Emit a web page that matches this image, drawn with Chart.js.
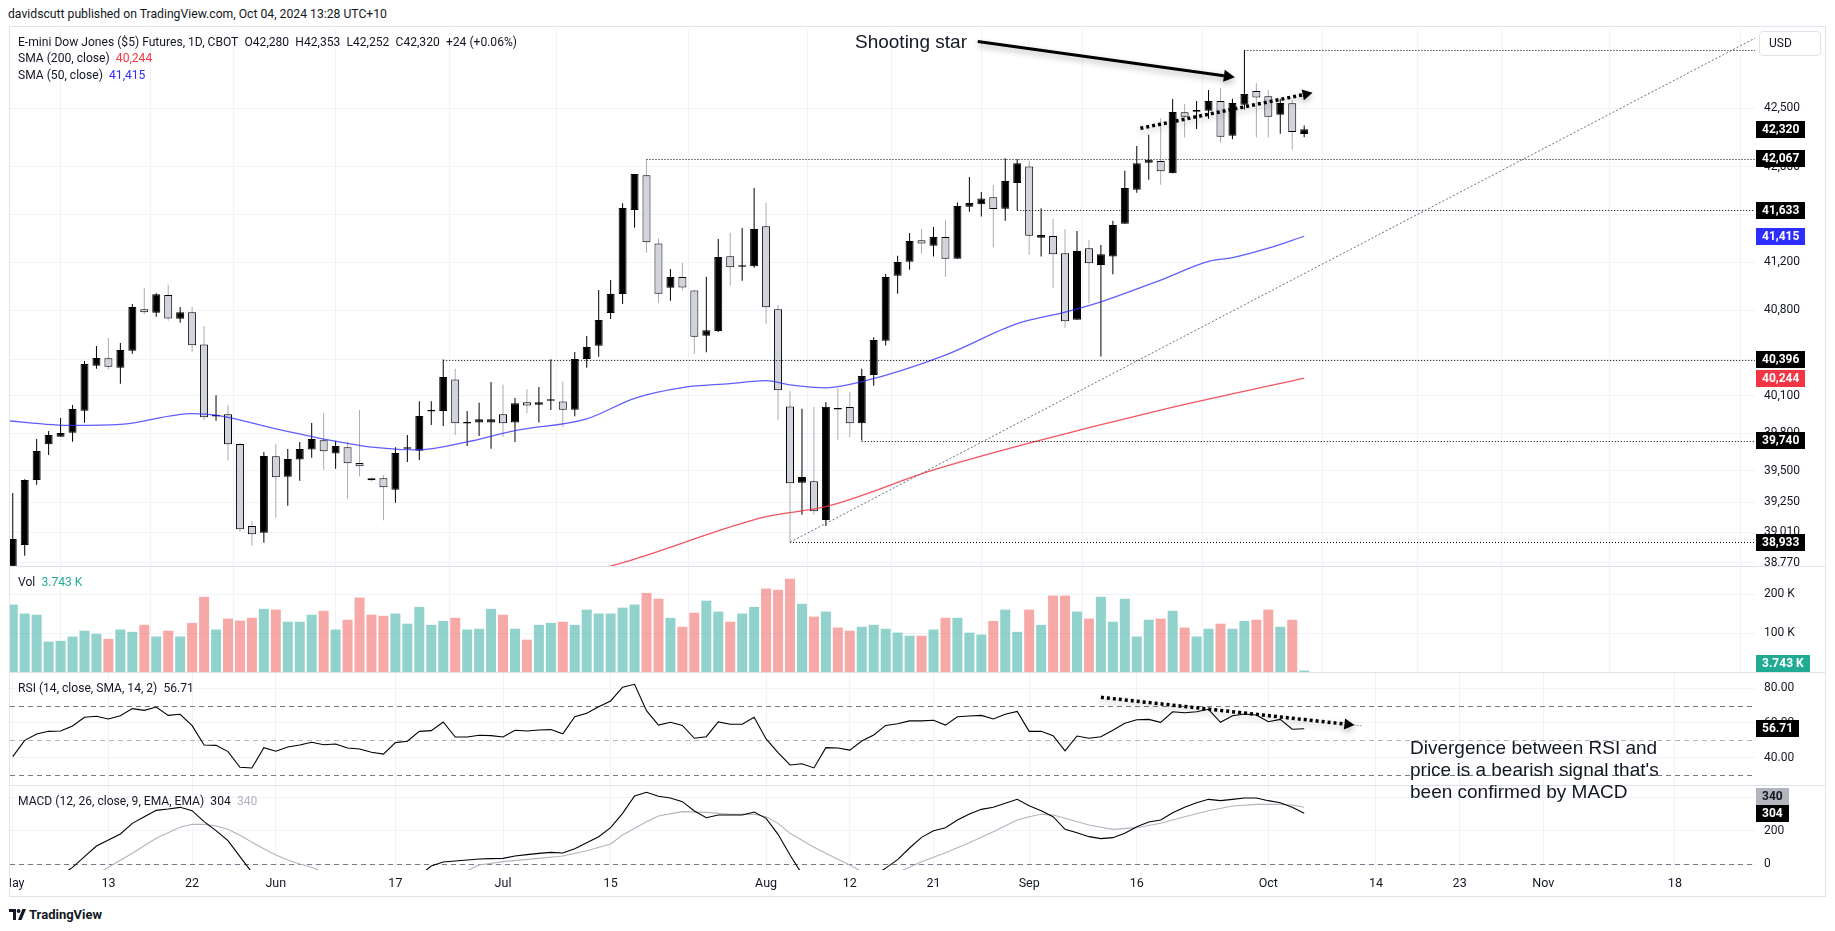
<!DOCTYPE html>
<html lang="en">
<head>
<meta charset="utf-8">
<title>E-mini Dow Jones ($5) Futures, 1D</title>
<script src="https://cdn.jsdelivr.net/npm/chart.js@4.4.1/dist/chart.umd.min.js"></script>
<style>
  html, body { margin: 0; padding: 0; background: #fff; }
  body { position: relative; width: 1835px; height: 931px; overflow: hidden;
         font-family: Roboto, 'Liberation Sans', sans-serif; color: #131722; }
  .pane { position: absolute; left: 10px; width: 1815px; }
  .txt { position: absolute; white-space: nowrap; }
  .legend { left: 18px; font-size: 12.1px; line-height: 16px; }
  .sep { position: absolute; left: 9px; width: 1816px; height: 1px; background: #e0e3eb; }
  .note { font-family: 'Liberation Sans', Arial, sans-serif; font-size: 19px; line-height: 22px; }
</style>
</head>
<body>
<div class="txt" style="left:8px;top:6px;font-size:12.2px;line-height:16px;">davidscutt published on TradingView.com, Oct 04, 2024 13:28 UTC+10</div>
<div style="position:absolute;left:9px;top:26px;width:1815px;height:869px;border:1px solid #e0e3eb;"></div>

<div class="pane" style="top:26px;height:540px;"><canvas id="priceChart"></canvas></div>
<div class="pane" style="top:566px;height:106px;"><canvas id="volumeChart"></canvas></div>
<div class="pane" style="top:672px;height:113px;"><canvas id="rsiChart"></canvas></div>
<div class="pane" style="top:785px;height:111px;"><canvas id="macdChart"></canvas></div>

<div class="sep" style="top:566px"></div>
<div class="sep" style="top:672px"></div>
<div class="sep" style="top:785px"></div>

<div class="txt legend" id="legendMain" style="top:34px;"></div>
<div class="txt legend" id="legendSma200" style="top:50px;"></div>
<div class="txt legend" id="legendSma50" style="top:67px;"></div>
<div class="txt legend" id="legendVol" style="top:574px;"></div>
<div class="txt legend" id="legendRsi" style="top:680px;"></div>
<div class="txt legend" id="legendMacd" style="top:793px;"></div>

<div class="txt" style="left:1759px;top:31px;width:60px;height:23px;border:1px solid #e0e3eb;border-radius:4px;font-size:12px;line-height:23px;text-indent:9px;">USD</div>

<div class="txt note" style="left:855px;top:31px;">Shooting star</div>
<div class="txt note" style="left:1410px;top:737px;">Divergence between RSI and<br>price is a bearish signal that's<br>been confirmed by MACD</div>

<div class="txt" style="left:9px;top:906px;font-size:13px;line-height:18px;font-weight:bold;">
  <svg width="17" height="11" style="vertical-align:-1px;margin-right:3px"><path d="M0 0h7v11H4V3H0z" fill="#131722"/><circle cx="9.6" cy="2" r="1.9" fill="#131722"/><path d="M13.5 0h3.5l-4.5 11H9z" fill="#131722"/></svg>TradingView
</div>

<script>
// ---- data (bar 0 = May 1, bar 108 = Oct 4) ----
const opens = [38740,38910,39425,39711,39772,39804,39980,40346,40406,40330,
  40468,40808,40780,40926,40730,40783,40520,39935,39952,39713,
  39060,39008,39615,39451,39588,39668,39743,39636,39687,39561,
  39439,39439,39347,39675,39659,39975,39978,40234,39877,39885,
  39885,39952,39885,40049,40028,40062,40056,39989,40401,40509,
  40777,40934,41635,41928,41355,40986,41075,40964,40591,40630,
  41247,41160,41164,41498,40808,40014,39404,39415,39108,39997,
  40011,39880,40270,40550,41086,41203,41381,41335,41408,41228,
  41663,41683,41742,41646,41864,42003,41402,41417,41272,40722,
  41314,41175,41245,41520,41806,42035,42049,41946,42465,42470,
  42479,42562,42264,42530,42648,42602,42444,42542,42280];
const highs = [39322,39431,39753,39817,39922,40026,40384,40507,40572,40531,
  40852,40984,40940,41011,40827,40827,40671,40106,40026,39720,
  39100,39649,39713,39673,39729,39882,39962,39737,39729,39986,
  39445,39465,39687,39785,40058,40058,40396,40322,39978,40046,
  40213,40194,40083,40156,40172,40398,40215,40458,40589,40967,
  41050,41693,41939,42067,41397,41141,41192,40970,41078,41392,
  41445,41484,41820,41696,40843,40140,39997,40011,40050,40166,
  40132,40322,40578,41100,41252,41442,41476,41493,41551,41699,
  41913,41786,41845,42072,42064,42052,41649,41560,41476,41459,
  41383,41341,41545,41967,42177,42273,42414,42579,42536,42562,
  42657,42674,42582,43000,42716,42657,42582,42570,42353];
const lows = [38700,38826,39387,39625,39772,39731,39884,40322,40317,40199,
  40444,40769,40747,40714,40698,40460,39906,39900,39580,39016,
  38905,38929,39126,39221,39419,39603,39507,39515,39276,39452,
  39415,39106,39245,39569,39585,39865,39857,39785,39697,39777,
  39674,39771,39729,39960,39885,39986,39850,39937,40330,40419,
  40728,40852,41487,41278,40863,40879,40964,40444,40455,40621,
  41003,41044,41153,40687,39908,38933,39150,39150,39060,39745,
  39767,39740,40183,40510,40937,41136,41269,41245,41078,41228,
  41621,41580,41320,41545,41633,41261,41245,40986,40657,40722,
  40858,40421,41098,41520,41780,41891,41848,41946,42250,42322,
  42410,42205,42234,42490,42250,42250,42282,42146,42252];
const closes = [38957,39425,39657,39785,39801,39994,40360,40408,40338,40474,
  40827,40783,40932,40733,40785,40512,39928,39945,39711,39035,
  38995,39617,39447,39593,39673,39753,39655,39697,39559,39534,
  39423,39367,39641,39682,39938,39982,40253,39880,39885,39912,
  39912,39880,40041,40022,40049,40070,39989,40401,40499,40720,
  40934,41651,41939,41364,40937,41075,40989,40583,40635,41242,
  41156,41168,41475,40825,40146,39399,39449,39177,40013,39990,
  39880,40262,40556,41075,41200,41375,41355,41408,41228,41668,
  41694,41733,41643,41879,42031,41419,41425,41264,40709,41292,
  41189,41264,41509,41820,42031,42060,41962,42467,42427,42485,
  42562,42256,42544,42622,42593,42427,42544,42296,42320];

// volume in thousands of contracts
const volumeK = [173,150,147,78,80,91,106,98,85,109,
  103,121,91,106,91,126,193,109,137,132,
  139,162,160,129,129,147,157,109,134,191,
  147,144,150,124,167,121,131,139,109,111,
  162,147,111,83,121,126,129,121,160,150,
  150,165,173,203,188,139,116,152,183,155,
  129,150,167,214,211,239,175,142,155,114,
  106,116,121,111,101,93,93,109,139,139,
  101,96,131,160,103,160,121,196,196,155,
  137,193,129,188,91,134,137,157,114,91,
  111,124,111,131,134,160,116,134,3.743];

const rsiValues = [40.6,50.0,53.7,55.2,55.4,58.3,63.3,63.9,62.3,64.2,
  68.3,67.3,69.2,64.4,65.0,58.5,47.3,47.1,43.5,34.5,
  34.1,45.8,43.7,46.2,47.3,48.9,47.5,47.9,45.6,45.0,
  43.1,42.1,48.7,49.5,55.2,55.6,60.6,51.9,51.9,52.9,
  52.7,51.9,55.8,55.4,56.0,56.2,53.8,63.6,65.6,69.4,
  72.7,80.6,82.3,67.1,58.8,60.4,58.6,51.2,52.1,60.6,
  59.3,59.3,63.3,50.8,42.9,35.8,36.5,34.1,45.8,45.6,
  44.4,49.6,53.1,58.6,59.6,61.2,61.2,61.6,58.8,63.6,
  64.0,64.4,62.3,65.0,66.7,55.2,55.2,52.7,44.0,52.5,
  51.2,52.1,55.8,59.8,61.9,62.1,60.4,66.5,65.9,66.5,
  67.9,60.4,64.2,65.2,64.6,60.7,62.1,56.4,56.71];

// MACD line; null where the line runs below the pane
const macdValues = [null,null,null,null,-70,-20,44,108,144,180,
  244,284,322,330,340,320,254,200,140,44,
  -50,null,null,null,null,null,null,null,null,null,
  null,null,null,null,-70,-12,12,18,24,30,
  32,34,48,56,64,70,66,92,128,164,
  218,304,408,430,406,396,374,318,278,294,
  294,294,312,274,178,54,-60,null,null,null,
  null,null,-70,-25,26,96,160,200,218,264,
  300,328,340,364,388,350,320,284,208,188,
  164,152,158,184,224,252,264,308,340,368,
  388,380,388,396,396,380,368,340,304];
// signal line, [bar, value]
const signalPoints = [[7,-60],[8,-20],[10,64],[12,154],[14,220],[15,238],[16,238],[17,228],[18,208],[19,172],
  [20,130],[21,92],[22,54],[23,24],[24,0],[25,-20],[26,-50],[38,-40],[39,-6],[41,14],[44,34],[46,48],
  [48,80],[50,120],[51,174],[53,254],[54,288],[56,314],[58,310],[60,298],[62,298],[63,284],[64,244],
  [65,184],[67,100],[68,64],[69,28],[70,-6],[71,-45],[74,-50],[75,-20],[76,14],[78,68],[80,128],
  [82,194],[84,264],[85,284],[86,298],[87,294],[88,274],[90,234],[92,208],[94,218],[96,244],
  [98,284],[100,320],[102,348],[104,358],[106,358],[107,354],[108,340]];

// moving averages, [bar, value]
const sma50Points = [[-1,39904],[5,39862],[9,39870],[15,39958],[17,39945],[22,39835],[27,39735],[30,39688],
  [34,39666],[38,39730],[42,39820],[48,39915],[52,40081],[56,40168],[60,40200],[63,40224],[65,40190],
  [68,40166],[71,40216],[78,40433],[84,40690],[88,40785],[91,40870],[96,41050],[100,41205],[102,41236],
  [105,41315],[108,41415]];
const sma200Points = [[48,38690],[50,38745],[52,38800],[63,39134],[68,39213],[77,39505],[85,39720],
  [96,39986],[108,40244]];

// time axis
const dateTickIndex = [0, 8, 15, 22, 32, 41, 50, 63, 70, 77, 85, 94, 105, 114, 121, 128, 139];
const dateTickText = ['May','13','22','Jun','17','Jul','15','Aug','12','21','Sep','16','Oct','14','23','Nov','18'];

// value axes
const priceTicks = [38770, 39010, 39250, 39500, 39800, 40100, 40400, 40800, 41200, 41600, 42000, 42500];
const volumeTicks = [100, 200];
const rsiTicks = [40, 60, 80];
const rsiBands = [70, 50, 30];
const macdTicks = [0, 200, 400];

// drawn levels and trend lines
const levelPrices = [43000, 42067, 41633, 40396, 39740, 38933];
const levelStartBar = [103, 53, 84, 36, 71, 65];
const supportLine = [[65, 38933], [96, 40486]];
const starArrow = [[80.7, 43077], [102.2, 42766]];
const priceArrow = [[94.3, 42328], [108.7, 42633]];
const rsiArrow = [[91.0, 74.8], [112.2, 58.8]];

// ---- view ----
const X_MIN = -0.23, X_MAX = 145.7;
const PRICE_MIN = 38746, PRICE_MAX = 43212;
const GRID = '#f0f3fa';
const TEXT = '#131722';
const BLUE = '#2d2dff';
const RED = '#f23645';
const UP_VOL = 'rgba(38,166,154,0.5)';
const DOWN_VOL = 'rgba(239,83,80,0.5)';

const last = closes.length - 1;
const isUp = closes.map((c, i) => c >= opens[i]);
const fmt = v => v.toLocaleString('en-US');

Chart.defaults.font.family = "Roboto, 'Liberation Sans', sans-serif";
Chart.defaults.font.size = 12;
Chart.defaults.color = TEXT;
Chart.defaults.animation = false;
Chart.defaults.events = [];
Chart.defaults.plugins.legend.display = false;
Chart.defaults.plugins.tooltip.enabled = false;

function timeAxis(showLabels) {
  return {
    type: 'linear', min: X_MIN, max: X_MAX, offset: false,
    grid: { color: GRID, drawTicks: false },
    border: { display: false },
    ticks: {
      display: showLabels, autoSkip: false, maxRotation: 0, padding: 6,
      font: { size: 12.5 },
      callback: v => { const k = dateTickIndex.indexOf(v); return k < 0 ? '' : dateTickText[k]; }
    },
    afterBuildTicks: s => { s.ticks = dateTickIndex.map(v => ({ value: v })); },
    afterFit: s => { s.height = showLabels ? 26 : 0; s.paddingLeft = 0; s.paddingRight = 0; }
  };
}

function valueAxis(type, min, max, tickValues, format) {
  return {
    type, min, max, position: 'right',
    grid: { color: GRID, drawTicks: false },
    border: { display: false },
    ticks: { padding: 9, autoSkip: false, font: { size: 12 }, callback: v => format(v) },
    afterBuildTicks: s => { s.ticks = tickValues.map(v => ({ value: v })); },
    afterFit: s => { s.width = 70; s.paddingTop = 0; s.paddingBottom = 0; }
  };
}

// price-scale labels in coloured boxes
function valueBoxes(boxes) {
  return {
    id: 'valueBoxes',
    afterDraw(chart) {
      const { ctx, chartArea: a, scales: { y } } = chart;
      const h = 17;
      const list = boxes.map(b => Object.assign({ py: y.getPixelForValue(b.value) }, b));
      list.forEach(b => { b.py = Math.min(Math.max(b.py, a.top + h / 2), a.bottom - h / 2); });
      list.sort((p, q) => q.py - p.py);
      for (let i = 1; i < list.length; i++) {
        if (list[i - 1].py - list[i].py < h) list[i].py = list[i - 1].py - h;
      }
      ctx.save();
      ctx.font = "bold 12px Roboto, 'Liberation Sans', sans-serif";
      ctx.textBaseline = 'middle';
      list.forEach(b => {
        const w = Math.round(ctx.measureText(b.text).width) + 12;
        const top = Math.round(b.py - h / 2);
        ctx.fillStyle = b.bg;
        ctx.fillRect(a.right + 1, top, w, h);
        ctx.fillStyle = b.fg || '#fff';
        ctx.fillText(b.text, a.right + 7, top + h / 2 + 0.5);
      });
      ctx.restore();
    }
  };
}

function drawArrow(ctx, x1, y1, x2, y2, width, dash, head) {
  const ang = Math.atan2(y2 - y1, x2 - x1);
  const bx = x2 - Math.cos(ang) * head, by = y2 - Math.sin(ang) * head;
  const hw = head * 0.55;
  ctx.save();
  ctx.shadowColor = 'rgba(0,0,0,0.3)';
  ctx.shadowBlur = 6;
  ctx.shadowOffsetY = 3;
  ctx.strokeStyle = '#000';
  ctx.fillStyle = '#000';
  ctx.lineWidth = width;
  ctx.setLineDash(dash);
  ctx.beginPath(); ctx.moveTo(x1, y1); ctx.lineTo(bx, by); ctx.stroke();
  ctx.setLineDash([]);
  ctx.beginPath();
  ctx.moveTo(x2, y2);
  ctx.lineTo(bx + Math.sin(ang) * hw, by - Math.cos(ang) * hw);
  ctx.lineTo(bx - Math.sin(ang) * hw, by + Math.cos(ang) * hw);
  ctx.closePath();
  ctx.fill();
  ctx.restore();
}

const priceDrawings = {
  id: 'priceDrawings',
  afterDatasetsDraw(chart) {
    const { ctx, chartArea: a, scales: { x, y } } = chart;
    ctx.save();
    ctx.beginPath(); ctx.rect(a.left, a.top, a.width, a.height); ctx.clip();

    // horizontal levels
    ctx.strokeStyle = '#000';
    ctx.lineWidth = 1;
    ctx.setLineDash([1, 2]);
    levelPrices.forEach((p, i) => {
      const py = Math.round(y.getPixelForValue(p)) + 0.5;
      ctx.beginPath();
      ctx.moveTo(x.getPixelForValue(levelStartBar[i]), py);
      ctx.lineTo(a.right, py);
      ctx.stroke();
    });

    // rising support line, extended to the right edge
    const sx1 = x.getPixelForValue(supportLine[0][0]), sy1 = y.getPixelForValue(supportLine[0][1]);
    const sx2 = x.getPixelForValue(supportLine[1][0]), sy2 = y.getPixelForValue(supportLine[1][1]);
    const slope = (sy2 - sy1) / (sx2 - sx1);
    ctx.strokeStyle = '#6a6d78';
    ctx.setLineDash([2, 2]);
    ctx.beginPath();
    ctx.moveTo(sx1, sy1);
    ctx.lineTo(a.right, sy1 + slope * (a.right - sx1));
    ctx.stroke();
    ctx.restore();

    drawArrow(ctx, x.getPixelForValue(starArrow[0][0]), y.getPixelForValue(starArrow[0][1]),
      x.getPixelForValue(starArrow[1][0]), y.getPixelForValue(starArrow[1][1]), 3, [], 11);
    drawArrow(ctx, x.getPixelForValue(priceArrow[0][0]), y.getPixelForValue(priceArrow[0][1]),
      x.getPixelForValue(priceArrow[1][0]), y.getPixelForValue(priceArrow[1][1]), 3.5, [3, 3], 10);
  }
};

const rsiDrawings = {
  id: 'rsiDrawings',
  beforeDatasetsDraw(chart) {
    const { ctx, chartArea: a, scales: { y } } = chart;
    ctx.save();
    ctx.lineWidth = 1;
    ctx.setLineDash([5, 4]);
    rsiBands.forEach(v => {
      const py = Math.round(y.getPixelForValue(v)) + 0.5;
      ctx.strokeStyle = v === 50 ? '#b2b5be' : '#787b86';
      ctx.beginPath(); ctx.moveTo(a.left, py); ctx.lineTo(a.right, py); ctx.stroke();
    });
    ctx.restore();
  },
  afterDatasetsDraw(chart) {
    const { ctx, scales: { x, y } } = chart;
    const x1 = x.getPixelForValue(rsiArrow[0][0]), y1 = y.getPixelForValue(rsiArrow[0][1]);
    const x2 = x.getPixelForValue(rsiArrow[1][0]), y2 = y.getPixelForValue(rsiArrow[1][1]);
    drawArrow(ctx, x1, y1, x2, y2, 3.5, [3, 3], 10);
    // thin dotted tail past the arrow head
    const ang = Math.atan2(y2 - y1, x2 - x1);
    ctx.save();
    ctx.strokeStyle = '#555';
    ctx.lineWidth = 1;
    ctx.setLineDash([1, 2]);
    ctx.beginPath(); ctx.moveTo(x2, y2); ctx.lineTo(x2 + Math.cos(ang) * 9, y2 + Math.sin(ang) * 9); ctx.stroke();
    ctx.restore();
  }
};

const macdZero = {
  id: 'macdZero',
  beforeDatasetsDraw(chart) {
    const { ctx, chartArea: a, scales: { y } } = chart;
    const py = Math.round(y.getPixelForValue(0)) + 0.5;
    ctx.save();
    ctx.strokeStyle = '#787b86';
    ctx.lineWidth = 1;
    ctx.setLineDash([5, 4]);
    ctx.beginPath(); ctx.moveTo(a.left, py); ctx.lineTo(a.right, py); ctx.stroke();
    ctx.restore();
  }
};

const baseOptions = { responsive: true, maintainAspectRatio: false, layout: { padding: 0 } };
const sma50Last = sma50Points[sma50Points.length - 1][1];
const sma200Last = sma200Points[sma200Points.length - 1][1];

// ---- price pane ----
new Chart(document.getElementById('priceChart'), {
  type: 'bar',
  data: {
    datasets: [
      {
        type: 'line', label: 'SMA 50', order: 1,
        data: sma50Points.map(p => ({ x: p[0], y: p[1] })),
        borderColor: 'rgba(41,41,255,0.75)', borderWidth: 1.3, pointRadius: 0,
        cubicInterpolationMode: 'monotone'
      },
      {
        type: 'line', label: 'SMA 200', order: 1,
        data: sma200Points.map(p => ({ x: p[0], y: p[1] })),
        borderColor: 'rgba(242,54,69,0.85)', borderWidth: 1.3, pointRadius: 0,
        cubicInterpolationMode: 'monotone'
      },
      {
        label: 'Body', order: 2, grouped: false,
        data: opens.map((o, i) => ({ x: i, y: [o, closes[i]] })),
        backgroundColor: isUp.map(u => u ? '#000000' : '#d1d4dc'),
        borderColor: '#000000', borderWidth: 1, borderSkipped: false,
        barThickness: 8, minBarLength: 1.5, inflateAmount: 0
      },
      {
        label: 'Wick', order: 3, grouped: false,
        data: lows.map((l, i) => ({ x: i, y: [l, highs[i]] })),
        backgroundColor: isUp.map(u => u ? '#000000' : '#a9acb6'),
        barThickness: 1, inflateAmount: 0
      }
    ]
  },
  options: Object.assign({}, baseOptions, {
    scales: {
      x: timeAxis(false),
      y: valueAxis('logarithmic', PRICE_MIN, PRICE_MAX, priceTicks, fmt)
    }
  }),
  plugins: [priceDrawings, valueBoxes([
    { value: closes[last], text: fmt(closes[last]), bg: '#000' },
    { value: levelPrices[1], text: fmt(levelPrices[1]), bg: '#000' },
    { value: levelPrices[2], text: fmt(levelPrices[2]), bg: '#000' },
    { value: sma50Last, text: fmt(sma50Last), bg: BLUE },
    { value: levelPrices[3], text: fmt(levelPrices[3]), bg: '#000' },
    { value: sma200Last, text: fmt(sma200Last), bg: RED },
    { value: levelPrices[4], text: fmt(levelPrices[4]), bg: '#000' },
    { value: levelPrices[5], text: fmt(levelPrices[5]), bg: '#000' }
  ])]
});

// ---- volume pane ----
new Chart(document.getElementById('volumeChart'), {
  type: 'bar',
  data: {
    datasets: [{
      label: 'Vol', grouped: false,
      data: volumeK.map((v, i) => ({ x: i, y: v })),
      backgroundColor: isUp.map(u => u ? UP_VOL : DOWN_VOL),
      barThickness: 10, inflateAmount: 0
    }]
  },
  options: Object.assign({}, baseOptions, {
    scales: {
      x: timeAxis(false),
      y: valueAxis('linear', 0, 272, volumeTicks, v => v + ' K')
    }
  }),
  plugins: [valueBoxes([{ value: volumeK[last], text: volumeK[last] + ' K', bg: '#22ab94' }])]
});

// ---- RSI pane ----
new Chart(document.getElementById('rsiChart'), {
  type: 'line',
  data: {
    datasets: [{
      label: 'RSI',
      data: rsiValues.map((v, i) => ({ x: i, y: v })),
      borderColor: '#000000', borderWidth: 1.1, pointRadius: 0, tension: 0
    }]
  },
  options: Object.assign({}, baseOptions, {
    scales: {
      x: timeAxis(false),
      y: valueAxis('linear', 24.27, 89.39, rsiTicks, v => v.toFixed(2))
    }
  }),
  plugins: [rsiDrawings, valueBoxes([{ value: rsiValues[last], text: rsiValues[last].toFixed(2), bg: '#000' }])]
});

// ---- MACD pane + time axis ----
new Chart(document.getElementById('macdChart'), {
  type: 'line',
  data: {
    datasets: [
      {
        label: 'MACD',
        data: macdValues.map((v, i) => ({ x: i, y: v })),
        borderColor: '#000000', borderWidth: 1.1, pointRadius: 0, spanGaps: false
      },
      {
        label: 'Signal',
        data: signalPoints.map(p => ({ x: p[0], y: p[1] })),
        borderColor: '#b2b5be', borderWidth: 1.1, pointRadius: 0
      }
    ]
  },
  options: Object.assign({}, baseOptions, {
    scales: {
      x: timeAxis(true),
      y: valueAxis('linear', -36, 474, macdTicks, v => String(v))
    }
  }),
  plugins: [macdZero, valueBoxes([
    { value: macdValues[last], text: String(macdValues[last]), bg: '#000' },
    { value: signalPoints[signalPoints.length - 1][1], text: String(signalPoints[signalPoints.length - 1][1]), bg: '#b2b5be', fg: TEXT }
  ])]
});

// ---- legends ----
const change = closes[last] - closes[last - 1];
const changePct = (change / closes[last - 1] * 100).toFixed(2);
document.getElementById('legendMain').textContent =
  'E-mini Dow Jones ($5) Futures, 1D, CBOT\u2002O' + fmt(opens[last]) + '\u2002H' + fmt(highs[last]) +
  '\u2002L' + fmt(lows[last]) + '\u2002C' + fmt(closes[last]) + '\u2002' + (change >= 0 ? '+' : '') + change +
  ' (' + (change >= 0 ? '+' : '') + changePct + '%)';
document.getElementById('legendSma200').innerHTML =
  'SMA (200, close)&ensp;<span style="color:' + RED + '">' + fmt(sma200Last) + '</span>';
document.getElementById('legendSma50').innerHTML =
  'SMA (50, close)&ensp;<span style="color:' + BLUE + '">' + fmt(sma50Last) + '</span>';
document.getElementById('legendVol').innerHTML =
  'Vol&ensp;<span style="color:#22ab94">' + volumeK[last] + ' K</span>';
document.getElementById('legendRsi').innerHTML =
  'RSI (14, close, SMA, 14, 2)&ensp;' + rsiValues[last].toFixed(2);
document.getElementById('legendMacd').innerHTML =
  'MACD (12, 26, close, 9, EMA, EMA)&ensp;' + macdValues[last] +
  '&ensp;<span style="color:#b2b5be">' + signalPoints[signalPoints.length - 1][1] + '</span>';
</script>
</body>
</html>
